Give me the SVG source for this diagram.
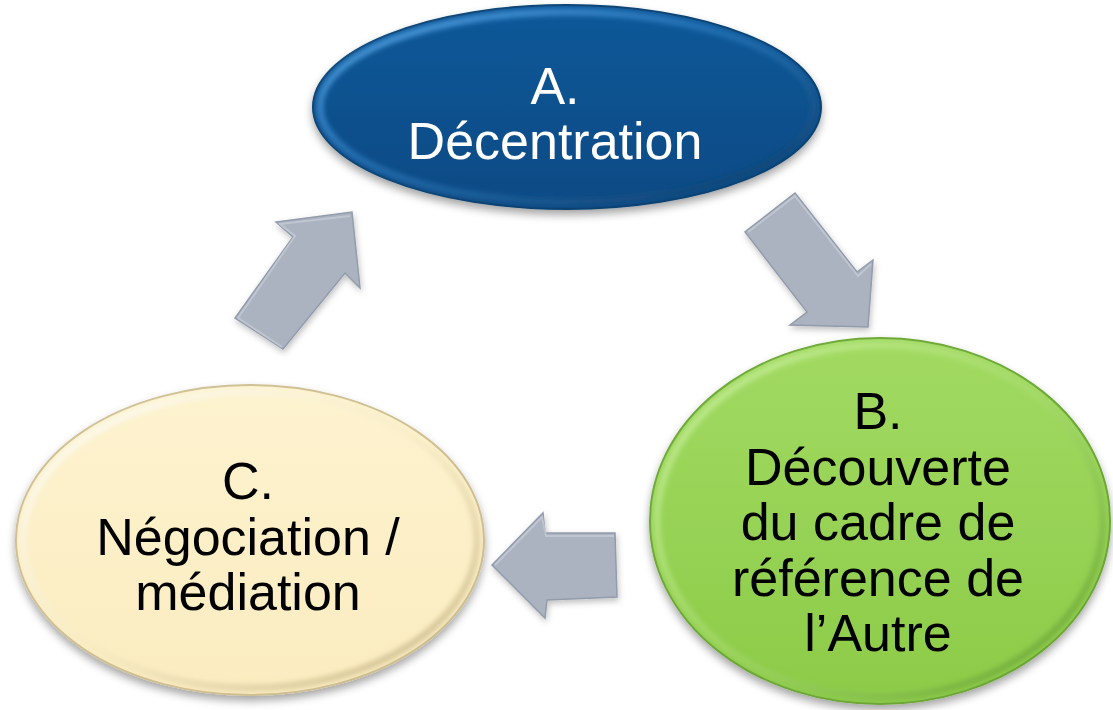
<svg xmlns="http://www.w3.org/2000/svg" width="1113" height="710" viewBox="0 0 1113 710">
  <defs>
    <filter id="shadow" x="-20%" y="-20%" width="140%" height="150%">
      <feDropShadow dx="0" dy="5" stdDeviation="4" flood-color="#000" flood-opacity="0.35"/>
    </filter>
    <filter id="soft" x="-10%" y="-10%" width="120%" height="120%">
      <feGaussianBlur stdDeviation="2.5"/>
    </filter>
    <filter id="arrowShadow" x="-20%" y="-20%" width="140%" height="140%">
      <feDropShadow dx="1" dy="3" stdDeviation="3" flood-color="#000" flood-opacity="0.25"/>
    </filter>

    <!-- node fills -->
    <linearGradient id="fillA" x1="0" y1="0" x2="0" y2="1">
      <stop offset="0" stop-color="#0b5899"/>
      <stop offset="1" stop-color="#0a4a84"/>
    </linearGradient>
    <linearGradient id="fillB" x1="0" y1="0" x2="0" y2="1">
      <stop offset="0" stop-color="#a2da62"/>
      <stop offset="1" stop-color="#8ccb48"/>
    </linearGradient>
    <linearGradient id="fillC" x1="0" y1="0" x2="0" y2="1">
      <stop offset="0" stop-color="#fdf3cf"/>
      <stop offset="1" stop-color="#fbecc0"/>
    </linearGradient>

    <!-- bevel rims: light toward top-left, dark toward bottom-right -->
    <linearGradient id="rimA" x1="0" y1="0" x2="1" y2="1">
      <stop offset="0" stop-color="#5aa6e6"/>
      <stop offset="0.45" stop-color="#2f7fc2" stop-opacity="0.6"/>
      <stop offset="1" stop-color="#06345e"/>
    </linearGradient>
    <linearGradient id="rimB" x1="0" y1="0" x2="1" y2="1">
      <stop offset="0" stop-color="#c8f09c"/>
      <stop offset="0.5" stop-color="#a8dc70" stop-opacity="0.6"/>
      <stop offset="1" stop-color="#5e9c28"/>
    </linearGradient>
    <linearGradient id="rimC" x1="0" y1="0" x2="1" y2="1">
      <stop offset="0" stop-color="#ffffff"/>
      <stop offset="0.5" stop-color="#f6ebc4" stop-opacity="0.6"/>
      <stop offset="1" stop-color="#c4b282"/>
    </linearGradient>

    <style>
      .label { font-family: "Liberation Sans", Arial, sans-serif; font-size: 52px; text-anchor: middle; }
      .light { fill: #ffffff; }
      .dark { fill: #000000; }
      .arrow { fill: #abb3c1; stroke: #939cab; stroke-width: 1.5; stroke-linejoin: miter; filter: url(#arrowShadow); }
      .arrowHi { fill: none; stroke: #c4cad5; stroke-width: 2; opacity: 0.8; }
    </style>
  </defs>

  <rect width="1113" height="710" fill="#ffffff"/>

  <!-- A. Décentration -->
  <g id="node-a">
    <ellipse cx="567" cy="107" rx="254" ry="102" fill="url(#fillA)" stroke="#08406f" stroke-width="2" filter="url(#shadow)"/>
    <ellipse cx="567" cy="107" rx="247" ry="95" fill="none" stroke="url(#rimA)" stroke-width="7" filter="url(#soft)"/>
    <text class="label light" x="555" y="104">A.</text>
    <text class="label light" x="555" y="159">Décentration</text>
  </g>

  <!-- B. Découverte du cadre de référence de l'Autre -->
  <g id="node-b">
    <ellipse cx="880" cy="521" rx="230" ry="183" fill="url(#fillB)" stroke="#6aa535" stroke-width="2" filter="url(#shadow)"/>
    <ellipse cx="880" cy="521" rx="223" ry="176" fill="none" stroke="url(#rimB)" stroke-width="7" filter="url(#soft)"/>
    <text class="label dark" x="878" y="429">B.</text>
    <text class="label dark" x="878" y="485">Découverte</text>
    <text class="label dark" x="878" y="540">du cadre de</text>
    <text class="label dark" x="878" y="596">référence de</text>
    <text class="label dark" x="878" y="651">l’Autre</text>
  </g>

  <!-- C. Négociation / médiation -->
  <g id="node-c">
    <ellipse cx="250" cy="540" rx="234" ry="155" fill="url(#fillC)" stroke="#cdbd90" stroke-width="2" filter="url(#shadow)"/>
    <ellipse cx="250" cy="540" rx="227" ry="148" fill="none" stroke="url(#rimC)" stroke-width="7" filter="url(#soft)"/>
    <text class="label dark" x="248" y="499">C.</text>
    <text class="label dark" x="248" y="555">Négociation /</text>
    <text class="label dark" x="248" y="610">médiation</text>
  </g>

  <!-- block arrows between the stages -->
  <g id="connectors">
    <!-- C to A -->
    <polygon class="arrow" points="352,212 360,288 345,273 283,349 235,318 293,237 276,222"/>
    <polyline class="arrowHi" points="282,347 238,318 295,236 280,224 350,216"/>
    <!-- A to B -->
    <polygon class="arrow" points="795,193 857,272 873,260 868,327 790,325 807,312 745,232"/>
    <polyline class="arrowHi" points="748,232 795,196 858,276 871,264"/>
    <!-- B to C -->
    <polygon class="arrow" points="492,565 543,513 545,533 615,533 617,597 547,600 545,618"/>
    <polyline class="arrowHi" points="495,565 542,517 546,536 614,536"/>
  </g>
</svg>
